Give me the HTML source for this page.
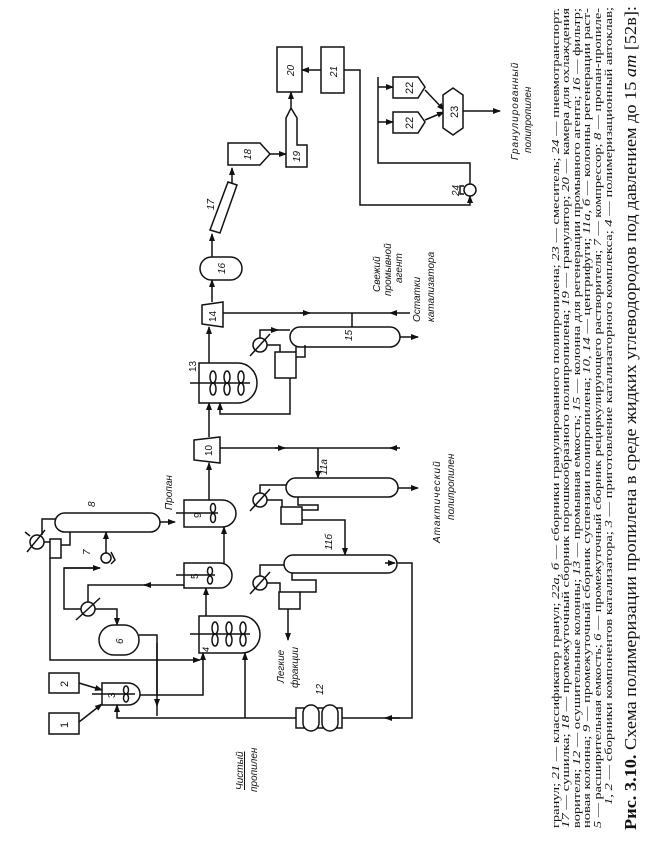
<!DOCTYPE html>
<html><head><meta charset="utf-8"><style>
html,body{margin:0;padding:0;background:#fff;}
svg{display:block;}
text{font-family:"Liberation Sans","DejaVu Sans",sans-serif;fill:#111;}
text.serif, text.cap{font-family:"Liberation Serif","DejaVu Serif",serif;}
.s{fill:none;stroke:#111;stroke-width:1.5;}
.w{fill:#fff;stroke:#111;stroke-width:1.5;}
.cap{font-size:10.5px;}
.it{font-style:italic;font-size:10px;}
.n{font-style:italic;font-size:10px;}
</style></head><body>
<svg width="651" height="841" viewBox="0 0 651 841" xmlns="http://www.w3.org/2000/svg">
<defs>
<marker id="a" markerWidth="8" markerHeight="8" refX="7" refY="4" orient="auto" markerUnits="userSpaceOnUse"><path d="M0,1 L8,4 L0,7 Z" fill="#111"/></marker>
</defs>
<rect width="651" height="841" fill="#fff"/>

<!-- caption -->
<text class="serif" transform="translate(636,830) rotate(-90)" font-size="17" textLength="824" lengthAdjust="spacingAndGlyphs"><tspan font-weight="bold">Рис. 3.10.</tspan> Схема полимеризации пропилена в среде жидких углеводородов под давлением до 15 <tspan font-style="italic">ат</tspan> [52в]:</text>
<text class="cap" transform="translate(612,805) rotate(-90)" textLength="798" lengthAdjust="spacingAndGlyphs"><tspan font-style="italic">1, 2</tspan> — сборники компонентов катализатора; <tspan font-style="italic">3</tspan> — приготовление катализаторного комплекса; <tspan font-style="italic">4</tspan> — полимеризационный автоклав;</text>
<text class="cap" transform="translate(601,828) rotate(-90)" textLength="820" lengthAdjust="spacingAndGlyphs"><tspan font-style="italic">5</tspan> — расширительная емкость; <tspan font-style="italic">6</tspan> — промежуточный сборник рециркулирующего растворителя; <tspan font-style="italic">7</tspan> — компрессор; <tspan font-style="italic">8</tspan> — пропан-пропиле-</text>
<text class="cap" transform="translate(590,828) rotate(-90)" textLength="820" lengthAdjust="spacingAndGlyphs">новая колонна; <tspan font-style="italic">9</tspan> — промежуточный сборник суспензии полипропилена; <tspan font-style="italic">10, 14</tspan> — центрифуги; <tspan font-style="italic">11а, б</tspan> — колонны регенерации раст-</text>
<text class="cap" transform="translate(580,828) rotate(-90)" textLength="820" lengthAdjust="spacingAndGlyphs">ворителя; <tspan font-style="italic">12</tspan> — осушительные колонны; <tspan font-style="italic">13</tspan> — промывная емкость; <tspan font-style="italic">15</tspan> — колонна для регенерации промывного агента; <tspan font-style="italic">16</tspan> — фильтр;</text>
<text class="cap" transform="translate(569,828) rotate(-90)" textLength="820" lengthAdjust="spacingAndGlyphs"><tspan font-style="italic">17</tspan> — сушилка; <tspan font-style="italic">18</tspan> — промежуточный сборник порошкообразного полипропилена; <tspan font-style="italic">19</tspan> — гранулятор; <tspan font-style="italic">20</tspan> — камера для охлаждения</text>
<text class="cap" transform="translate(559,828) rotate(-90)" textLength="820" lengthAdjust="spacingAndGlyphs">гранул; <tspan font-style="italic">21</tspan> — классификатор гранул; <tspan font-style="italic">22а, б</tspan> — сборники гранулированного полипропилена; <tspan font-style="italic">23</tspan> — смеситель; <tspan font-style="italic">24</tspan> — пневмотранспорт.</text>

<!-- boxes 1, 2 -->
<rect class="w" x="49" y="713" width="30" height="21"/><text transform="translate(68,728) rotate(-90)" font-size="11">1</text>
<rect class="w" x="49" y="673" width="30" height="20"/><text transform="translate(68,687) rotate(-90)" font-size="11">2</text>
<path class="s" d="M79,722 L102,704" marker-end="url(#a)"/>
<path class="s" d="M79,683 L102,690" marker-end="url(#a)"/>
<!-- vessel 3 -->
<path class="w" d="M102,683 H128 A12,11 0 0 1 128,705 H102 Z"/>
<path class="s" d="M92,694 H135"/><text transform="translate(115,698) rotate(-90)" font-size="10">3</text>
<ellipse class="s" cx="126" cy="690" rx="2.5" ry="4"/><ellipse class="s" cx="126" cy="698" rx="2.5" ry="4"/>
<path class="s" d="M245,718 H117 V705" marker-end="url(#a)"/>
<path class="s" d="M140,695 H203 V653" marker-end="url(#a)"/>
<path class="s" d="M157,716 V643" /><path class="s" d="M157,700 V706" marker-end="url(#a)"/>
<!-- 6 -->
<rect class="w" x="99" y="625" width="40" height="30" rx="15"/><text transform="translate(123,644) rotate(-90)" font-size="10" font-style="italic">6</text>
<path class="s" d="M139,635 H157 V695"/>
<path class="s" d="M50,558 V660 H200" marker-end="url(#a)"/>
<circle class="s" cx="88" cy="609" r="7"/><path class="s" d="M76,620 L100,598"/>
<path class="s" d="M95,609 H117 V625" marker-end="url(#a)"/>
<path class="s" d="M88,602 V585 H184" />
<path class="s" d="M150,585 H144" marker-end="url(#a)"/>
<path class="s" d="M81,609 H64 V568 H100" marker-end="url(#a)"/>
<!-- 4 -->
<path class="w" d="M199,616 H242 A18,18.5 0 0 1 242,653 H199 Z"/>
<path class="s" d="M190,634 H250"/>
<g class="s"><ellipse cx="215" cy="628" rx="3" ry="6"/><ellipse cx="215" cy="640" rx="3" ry="6"/><ellipse cx="229" cy="628" rx="3" ry="6"/><ellipse cx="229" cy="640" rx="3" ry="6"/><ellipse cx="243" cy="628" rx="3" ry="6"/><ellipse cx="243" cy="640" rx="3" ry="6"/></g>
<text transform="translate(209,652) rotate(-90)" font-size="9" font-style="italic">4</text>
<path class="s" d="M245,718 V653" marker-end="url(#a)"/>
<!-- 5 -->
<path class="w" d="M184,563 H220 A12,12.5 0 0 1 220,588 H184 Z"/>
<path class="s" d="M176,575 H215"/><ellipse class="s" cx="210" cy="571" rx="2.5" ry="4"/><ellipse class="s" cx="210" cy="580" rx="2.5" ry="4"/>
<text transform="translate(198,579) rotate(-90)" font-size="10">5</text>
<path class="s" d="M206,616 V588" marker-end="url(#a)"/>
<!-- 9 -->
<path class="w" d="M184,500 H222 A14,13.5 0 0 1 222,527 H184 Z"/>
<path class="s" d="M176,513 H218"/><ellipse class="s" cx="213" cy="508" rx="2.5" ry="4.5"/><ellipse class="s" cx="213" cy="518" rx="2.5" ry="4.5"/>
<text transform="translate(201,518) rotate(-90)" font-size="10">9</text>
<path class="s" d="M224,563 V527" marker-end="url(#a)"/>
<!-- 8 column -->
<rect class="w" x="55" y="513" width="105" height="19" rx="9.5"/>
<text transform="translate(95,507) rotate(-90)" class="n">8</text>
<path class="s" d="M160,522 H175" marker-end="url(#a)"/>
<text class="it" transform="translate(172,510) rotate(-90)">Пропан</text>
<circle class="s" cx="37" cy="542" r="7"/><path class="s" d="M27,552 L45,530"/><path class="s" d="M30,536 L25,532"/>
<path class="s" d="M55,519 H42 V535"/>
<rect class="w" x="50" y="539" width="11" height="19"/>
<path class="s" d="M44,542 H50"/><path class="s" d="M61,545 H70 V532"/>
<circle class="s" cx="106" cy="558" r="5"/><path class="s" d="M111,552 L115,560 L111,564"/>
<text transform="translate(90,555) rotate(-90)" class="n">7</text>
<path class="s" d="M106,553 V532" marker-end="url(#a)"/>
<path class="s" d="M64,568 H100"/>
<!-- 10 -->
<path class="w" d="M194,440 L220,437 L220,463 L194,460 Z"/><text transform="translate(212,456) rotate(-90)" font-size="10">10</text>
<path class="s" d="M209,500 V463" marker-end="url(#a)"/>
<path class="s" d="M209,437 V403" marker-end="url(#a)"/>
<path class="s" d="M220,448 H400"/><path class="s" d="M318,448 V478" marker-end="url(#a)"/>
<path class="s" d="M275,448 H285" marker-end="url(#a)"/>
<path class="s" d="M398,448 H390" marker-end="url(#a)"/>
<text transform="translate(327,475) rotate(-90)" class="n">11а</text>
<!-- 13 -->
<path class="w" d="M199,363 H238 A19,20 0 0 1 238,403 H199 Z"/>
<path class="s" d="M190,383 H250"/>
<g class="s"><ellipse cx="213" cy="377" rx="3" ry="6"/><ellipse cx="213" cy="389" rx="3" ry="6"/><ellipse cx="227" cy="377" rx="3" ry="6"/><ellipse cx="227" cy="389" rx="3" ry="6"/><ellipse cx="241" cy="377" rx="3" ry="6"/><ellipse cx="241" cy="389" rx="3" ry="6"/></g>
<text transform="translate(196,372) rotate(-90)" font-size="10">13</text>
<path class="s" d="M209,363 V327" marker-end="url(#a)"/>
<path class="s" d="M290,378 V414 H220 V403" marker-end="url(#a)"/>
<!-- 14, 16, 17, 18, 19 -->
<path class="w" d="M202,305 L223,302 L223,327 L202,324 Z"/><text transform="translate(216,322) rotate(-90)" font-size="10">14</text>
<path class="s" d="M212,302 V280" marker-end="url(#a)"/>
<rect class="w" x="200" y="257" width="42" height="23" rx="11.5"/><text transform="translate(225,274) rotate(-90)" class="n" font-size="11">16</text>
<path class="s" d="M212,257 V234" marker-end="url(#a)"/>
<path class="w" d="M210,230 L220,233 L237,185 L228,182 Z"/><text transform="translate(214,210) rotate(-90)" class="n">17</text>
<path class="s" d="M232,183 V168" marker-end="url(#a)"/>
<path class="w" d="M228,143 H260 L270,154 L260,165 H228 Z"/><text transform="translate(251,160) rotate(-90)" class="n">18</text>
<path class="s" d="M270,154 H286" marker-end="url(#a)"/>
<path class="w" d="M286,167 V118 L291,108 L297,118 V145 H307 V167 Z"/><text transform="translate(300,162) rotate(-90)" class="n">19</text>
<path class="s" d="M291,108 V92" marker-end="url(#a)"/>
<rect class="w" x="277" y="47" width="25" height="45"/><text transform="translate(294,76) rotate(-90)" class="n" font-size="11">20</text>
<rect class="w" x="321" y="47" width="23" height="46"/><text transform="translate(337,77) rotate(-90)" class="n" font-size="11">21</text>
<path class="s" d="M321,70 H302" marker-end="url(#a)"/>
<path class="s" d="M344,70 H360 V205 H470 V196" marker-end="url(#a)"/>
<circle class="s" cx="470" cy="190" r="6"/><path class="s" d="M464,186 H460 V194 H464"/>
<text transform="translate(459,196) rotate(-90)" class="n">24</text>
<path class="s" d="M470,184 V163 H378 V77"/>
<path class="s" d="M378,87 H393" marker-end="url(#a)"/><path class="s" d="M378,122 H393" marker-end="url(#a)"/>
<path class="w" d="M393,77 H418 L425,87 L418,98 H393 Z"/><text transform="translate(413,94) rotate(-90)" font-size="11">22</text>
<path class="w" d="M393,112 H418 L425,122 L418,133 H393 Z"/><text transform="translate(413,129) rotate(-90)" font-size="11">22</text>
<path class="s" d="M425,90 L444,110" marker-end="url(#a)"/><path class="s" d="M425,120 L444,112" marker-end="url(#a)"/>
<path class="w" d="M443,95 L453,88 L463,95 V128 L453,135 L443,128 Z"/><text transform="translate(458,118) rotate(-90)" font-size="11">23</text>
<path class="s" d="M463,111 H500" marker-end="url(#a)"/>
<text class="it" transform="translate(518,160) rotate(-90)" font-size="11" letter-spacing="1">Гранулированный</text>
<text class="it" transform="translate(531,153) rotate(-90)" font-size="11">полипропилен</text>
<!-- 15 -->
<path class="s" d="M223,313 H390"/><path class="s" d="M300,313 H310" marker-end="url(#a)"/>
<path class="s" d="M410,313 H390" marker-end="url(#a)"/>
<path class="s" d="M352,313 V327"/>
<rect class="w" x="290" y="327" width="110" height="20" rx="10"/><text transform="translate(352,341) rotate(-90)" class="n">15</text>
<path class="s" d="M400,337 H418" marker-end="url(#a)"/>
<circle class="s" cx="260" cy="345" r="7"/><path class="s" d="M250,356 L270,334"/>
<path class="s" d="M260,338 V330 H290" /><path class="s" d="M270,330 H278" marker-end="url(#a)"/>
<path class="s" d="M267,345 H280 V352"/>
<rect class="w" x="275" y="352" width="21" height="26"/>
<path class="s" d="M296,357 H305 V345"/><path class="s" d="M296,352 V347"/>
<text class="it" transform="translate(380,292) rotate(-90)">Свежий</text>
<text class="it" transform="translate(391,296) rotate(-90)">промывной</text>
<text class="it" transform="translate(402,283) rotate(-90)">агент</text>
<text class="it" transform="translate(420,322) rotate(-90)">Остатки</text>
<text class="it" transform="translate(434,322) rotate(-90)">катализатора</text>
<!-- 11a -->
<rect class="w" x="286" y="478" width="112" height="19" rx="9.5"/>
<path class="s" d="M398,488 H418" marker-end="url(#a)"/>
<circle class="s" cx="260" cy="500" r="7"/><path class="s" d="M250,511 L270,489"/>
<path class="s" d="M260,493 V485 H286"/>
<path class="s" d="M267,500 H282 V507"/>
<rect class="w" x="281" y="507" width="21" height="17"/>
<path class="s" d="M298,497 V505 H318 V510 H302"/>
<path class="s" d="M302,520 H345 V555" marker-end="url(#a)"/>
<text transform="translate(332,550) rotate(-90)" class="n">11б</text>
<text class="it" transform="translate(440,543) rotate(-90)" letter-spacing="1">Атактический</text>
<text class="it" transform="translate(454,520) rotate(-90)">полипропилен</text>
<!-- 11b -->
<rect class="w" x="284" y="555" width="113" height="18" rx="9"/>
<path class="s" d="M397,563 H412 V718 H342"/><path class="s" d="M385,563 H395" marker-end="url(#a)"/>
<path class="s" d="M400,718 H385" marker-end="url(#a)"/>
<circle class="s" cx="260" cy="583" r="7"/><path class="s" d="M250,594 L270,572"/>
<path class="s" d="M260,576 V565 H284"/>
<path class="s" d="M267,583 H280 V592"/>
<rect class="w" x="279" y="592" width="21" height="17"/>
<path class="s" d="M292,573 V580 H316 V592 H300"/>
<path class="s" d="M288,609 V640" marker-end="url(#a)"/>
<text class="it" transform="translate(284,683) rotate(-90)">Легкие</text>
<text class="it" transform="translate(298,688) rotate(-90)">фракции</text>
<!-- 12 -->
<rect class="w" x="296" y="708" width="46" height="20"/>
<rect class="w" x="303" y="705" width="16" height="26" rx="8"/><rect class="w" x="322" y="705" width="16" height="26" rx="8"/>
<path class="s" d="M296,718 H245"/>
<text transform="translate(323,695) rotate(-90)" class="n">12</text>
<text class="it" transform="translate(243,790) rotate(-90)" text-decoration="underline">Чистый</text>
<text class="it" transform="translate(257,792) rotate(-90)">пропилен</text>
</svg>
</body></html>
